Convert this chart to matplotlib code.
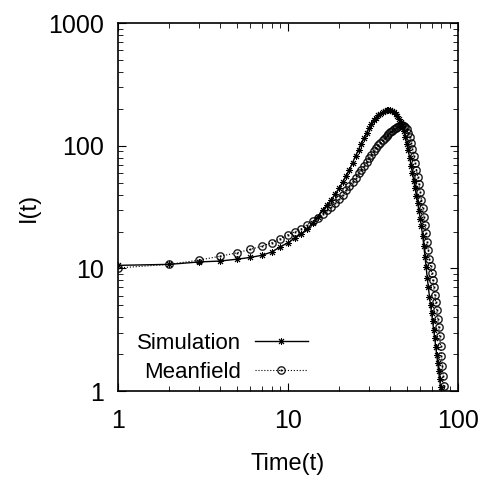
from matplotlib import pyplot as plt
import numpy as np

plt.rcParams['font.family'] = ['Liberation Sans', 'DejaVu Sans']

# time steps (one marker per step)
t_sim = list(range(1, 81))
t_mf = list(range(1, 85))

# simulation
sim = [10.6, 10.8, 11.3, 11.5, 11.9, 12.3, 12.8, 13.6, 15.0, 16.2,
       17.8, 19.2, 21.1, 23.6, 26.5, 30.0, 33.0, 36.5, 40.5, 45.0,
       51.0, 57.0, 64.0, 73.0, 83.0, 93.0, 104.0, 116.0, 128.0, 140.0,
       151.0, 161.0, 170.0, 177.0, 183.0, 188.0, 192.0, 195.0, 197.0, 197.0,
       193.0, 188.0, 182.0, 175.0, 167.0, 157.0, 145.0, 132.0, 118.0, 104.0,
       92.0, 80.0, 69.0, 60.0, 52.0, 45.0, 39.0, 34.0, 29.5, 25.5,
       22.0, 18.5, 15.3, 12.5, 10.2, 8.4, 7.0, 5.9, 5.0, 4.3,
       3.7, 3.15, 2.7, 2.3, 1.98, 1.7, 1.46, 1.25, 1.08, 0.93]

# meanfield
mf = [10.1, 10.8, 11.7, 12.6, 13.4, 14.3, 15.2, 16.2, 17.5, 18.9,
      19.9, 21.1, 22.8, 24.4, 26.0, 28.0, 30.0, 32.0, 34.5, 37.0,
      40.0, 43.5, 47.0, 51.0, 55.0, 59.5, 64.0, 69.0, 74.0, 79.0,
      84.5, 90.0, 95.5, 101.0, 106.0, 111.0, 116.0, 120.5, 125.0, 129.0,
      133.0, 136.5, 140.0, 143.0, 145.5, 147.0, 147.5, 146.0, 142.0, 136.0,
      127.0, 117.0, 106.0, 94.0, 83.0, 73.0, 64.0, 56.0, 48.5, 42.0,
      36.0, 31.0, 26.5, 22.5, 19.3, 16.5, 14.1, 12.0, 10.5, 9.2,
      8.0, 7.0, 6.1, 5.3, 4.6, 3.9, 3.3, 2.8, 2.35, 1.95,
      1.6, 1.33, 1.1, 0.9]

fig = plt.figure(figsize=(4.8, 4.84), dpi=100)
ax = fig.add_axes([0.246, 0.192, 0.708, 0.760])

ax.plot(t_sim, sim, color='black', lw=1.0, marker=(8, 2, 0), ms=5,
        mew=0.7, label='Simulation')
ax.plot(t_mf, mf, color='black', lw=0.8, ls=':', marker=r'$\odot$', ms=6,
        mew=0.2, label='Meanfield')

ax.set_xscale('log')
ax.set_yscale('log')
ax.set_xlim(1, 100)
ax.set_ylim(1, 1000)
ax.set_xticks([1, 10, 100])
ax.set_xticklabels(['1', '10', '100'])
ax.set_yticks([1, 10, 100, 1000])
ax.set_yticklabels(['1', '10', '100', '1000'])

ax.tick_params(which='both', direction='in', top=True, right=True)
ax.tick_params(which='major', length=6, width=0.8, labelsize=18)
ax.tick_params(axis='x', which='major', pad=13)
ax.tick_params(axis='y', which='major', pad=10)
ax.tick_params(which='minor', length=3.5, width=0.6)
for s in ax.spines.values():
    s.set_linewidth(1.2)

ax.set_xlabel('Time(t)', fontsize=17, labelpad=14)
ax.set_ylabel('I(t)', fontsize=17)
ax.yaxis.set_label_coords(-0.23, 0.5)

ax.legend(loc='upper right', bbox_to_anchor=(0.605, 0.20), frameon=False,
          markerfirst=False, fontsize=16, handlelength=2.4, handletextpad=0.6,
          labelspacing=0.35, borderpad=0.2)

fig.savefig('out.png')
